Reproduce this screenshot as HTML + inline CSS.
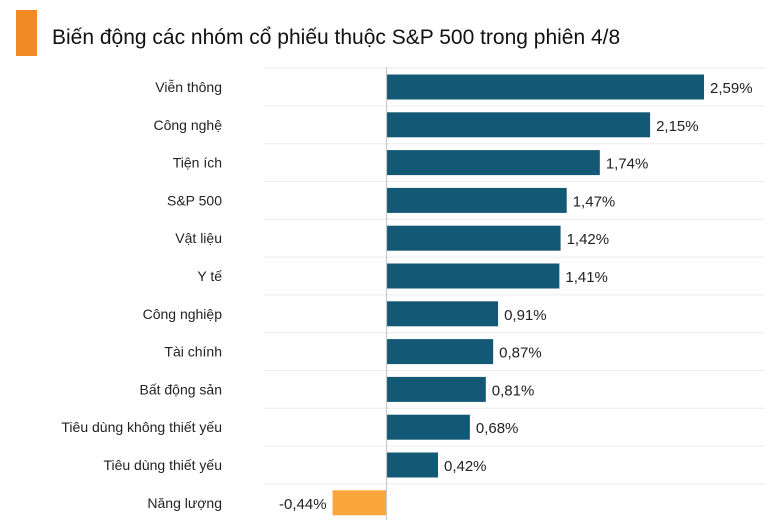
<!DOCTYPE html>
<html><head><meta charset="utf-8"><style>
body{margin:0;background:#fff;width:779px;height:520px;overflow:hidden;font-family:"Liberation Sans","Noto Sans CJK SC",sans-serif}
</style></head><body>
<svg width="779" height="520">
<rect x="16" y="10" width="21" height="46" fill="#f28a24"/>
<text x="52" y="44" font-size="21" fill="#111">Biến động các nhóm cổ phiếu thuộc S&amp;P 500 trong phiên 4/8</text>
<g id="plot"></g>
</svg>
<script>
const categories=["Viễn thông","Công nghệ","Tiện ích","S&P 500","Vật liệu","Y tế","Công nghiệp","Tài chính","Bất động sản","Tiêu dùng không thiết yếu","Tiêu dùng thiết yếu","Năng lượng"];
const values=[2.59,2.15,1.74,1.47,1.42,1.41,0.91,0.87,0.81,0.68,0.42,-0.44];
const labels=["2,59%","2,15%","1,74%","1,47%","1,42%","1,41%","0,91%","0,87%","0,81%","0,68%","0,42%","-0,44%"];
const NS="http://www.w3.org/2000/svg",g=document.getElementById('plot');
const x0=386.5,k=122.6,y0=87,step=37.8,bh=25;
const xs=v=>x0+v*k, ys=i=>y0+i*step;
function mk(t,a){const e=document.createElementNS(NS,t);for(const n in a)e.setAttribute(n,a[n]);g.appendChild(e);return e;}
for(let i=0;i<=categories.length-1;i++){
 const gl=mk('line',{x1:264,x2:765,y1:ys(i)-step/2,y2:ys(i)-step/2,stroke:'#ececec','stroke-width':1});
 
 
}
categories.forEach((c,i)=>{
 const v=values[i],y=ys(i);
 const l=mk('text',{x:222,y:y+5,'text-anchor':'end','font-size':14,fill:'#222'});l.textContent=c;
 
 
 const r=mk('rect',{x:Math.min(xs(0),xs(v)),y:y-bh/2,width:Math.abs(xs(v)-xs(0)),height:bh,fill:v>=0?'#135874':'#fba63a'});
 
 
 const t=mk('text',{x:v>=0?xs(v)+6:xs(v)-6,y:y+6,'text-anchor':v>=0?'start':'end','font-size':15,fill:'#222'});t.textContent=labels[i];
 
 
});
const z=mk('line',{x1:x0,x2:x0,y1:67,y2:520,stroke:'#c8c8c8','stroke-width':1.2});


</script>
</body></html>
